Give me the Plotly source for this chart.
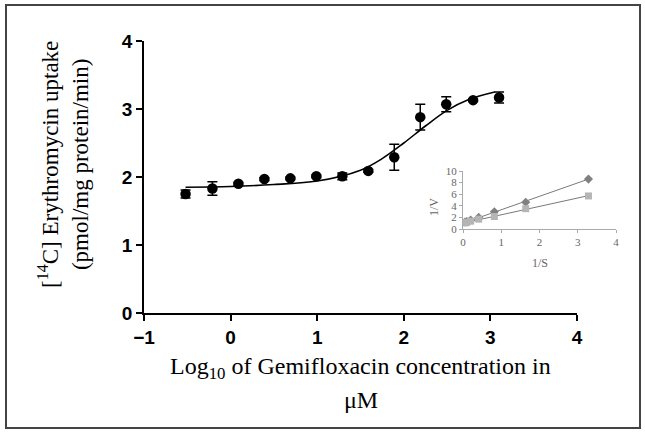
import plotly.graph_objects as go

# Main data: log10 concentration vs uptake
log_conc = [-0.52, -0.21, 0.09, 0.39, 0.69, 0.99, 1.29, 1.59, 1.89, 2.19, 2.49, 2.80, 3.10]
uptake = [1.75, 1.83, 1.90, 1.97, 1.98, 2.01, 2.01, 2.09, 2.29, 2.88, 3.07, 3.13, 3.17]
uptake_err = [0.06, 0.10, 0.02, 0.02, 0.02, 0.02, 0.05, 0.02, 0.19, 0.19, 0.11, 0.02, 0.08]

# Fitted curve
curve_x = [-0.52, 0.0, 0.5, 1.0, 1.5, 1.75, 2.0, 2.25, 2.5, 2.75, 3.05]
curve_y = [1.85, 1.86, 1.89, 1.94, 2.10, 2.27, 2.50, 2.75, 2.98, 3.14, 3.25]

x_ticks = [-1, 0, 1, 2, 3, 4]
y_ticks = [0, 1, 2, 3, 4]

# Inset: Lineweaver-Burk
inv_s = [0.05, 0.10, 0.20, 0.41, 0.82, 1.64, 3.28]
inv_v_a = [1.2, 1.3, 1.55, 2.0, 2.97, 4.6, 8.6]
inv_v_b = [1.05, 1.15, 1.35, 1.7, 2.15, 3.5, 5.7]
line_x = [0.0, 3.28]
line_a = [1.0, 8.6]
line_b = [1.0, 5.75]
inset_xticks = [0, 1, 2, 3, 4]
inset_yticks = [0, 2, 4, 6, 8, 10]

W, H = 645, 433
def px(x): return x / W
def py(y): return 1 - y / H

fig = go.Figure()

fig.add_trace(go.Scatter(x=curve_x, y=curve_y, mode="lines", line=dict(color="black", width=1.6, shape="spline"),
                         xaxis="x", yaxis="y", showlegend=False, hoverinfo="skip"))
fig.add_trace(go.Scatter(x=log_conc, y=uptake, mode="markers",
                         marker=dict(color="black", size=10.5, symbol="circle"),
                         error_y=dict(type="data", array=uptake_err, color="black", thickness=1.5, width=5),
                         xaxis="x", yaxis="y", showlegend=False))

fig.add_trace(go.Scatter(x=line_x, y=line_a, mode="lines", line=dict(color="#7a7a7a", width=1),
                         xaxis="x2", yaxis="y2", showlegend=False))
fig.add_trace(go.Scatter(x=line_x, y=line_b, mode="lines", line=dict(color="#7a7a7a", width=1),
                         xaxis="x2", yaxis="y2", showlegend=False))
fig.add_trace(go.Scatter(x=inv_s, y=inv_v_a, mode="markers",
                         marker=dict(color="#808080", size=7, symbol="diamond"),
                         xaxis="x2", yaxis="y2", showlegend=False))
fig.add_trace(go.Scatter(x=inv_s, y=inv_v_b, mode="markers",
                         marker=dict(color="#b5b5b5", size=7, symbol="square"),
                         xaxis="x2", yaxis="y2", showlegend=False))

tickfont_main = dict(family="Liberation Sans", size=19, color="black", weight="bold")
inset_font = dict(family="Liberation Serif", size=11, color="#666666")
inset_title_font = dict(family="Liberation Serif", size=12, color="#666666")
xtitle_font = dict(family="Liberation Serif", size=24, color="black")
ytitle_font = dict(family="Liberation Serif", size=23, color="black")

fig.update_layout(
    width=W, height=H, autosize=False,
    margin=dict(l=0, r=0, t=0, b=0, pad=0, autoexpand=False),
    paper_bgcolor="white", plot_bgcolor="white",
    xaxis=dict(domain=[px(144), px(577)], range=[-1, 4], tickvals=x_ticks, ticks="outside", ticklen=6,
               tickwidth=1.5, tickcolor="black", showline=True, linecolor="black", linewidth=1.5,
               showgrid=False, zeroline=False, tickfont=tickfont_main, anchor="y", automargin=False),
    yaxis=dict(domain=[py(313), py(41)], range=[0, 4], tickvals=y_ticks, ticks="outside", ticklen=6,
               tickwidth=1.5, tickcolor="black", showline=True, linecolor="black", linewidth=1.5,
               showgrid=False, zeroline=False, tickfont=tickfont_main, anchor="x", automargin=False),
    xaxis2=dict(domain=[px(463), px(616)], range=[0, 4], tickvals=inset_xticks, ticks="outside", ticklen=3,
                tickcolor="#aaaaaa", showline=True, linecolor="#aaaaaa", linewidth=1, showgrid=False,
                zeroline=False, tickfont=inset_font, anchor="y2", automargin=False),
    yaxis2=dict(domain=[py(229), py(171)], range=[0, 10], tickvals=inset_yticks, ticks="outside", ticklen=3,
                tickcolor="#aaaaaa", showline=True, linecolor="#aaaaaa", linewidth=1, showgrid=False,
                zeroline=False, tickfont=inset_font, anchor="x2", automargin=False),
    annotations=[
        dict(text="[<sup>14</sup>C] Erythromycin uptake<br>(pmol/mg protein/min)", x=px(63), y=py(165),
             xref="paper", yref="paper", showarrow=False, textangle=-90,
             xanchor="center", yanchor="middle", font=ytitle_font),
        dict(text="Log<sub>10</sub> of Gemifloxacin concentration in", x=px(361), y=py(368),
             xref="paper", yref="paper", showarrow=False, xanchor="center", yanchor="middle", font=xtitle_font),
        dict(text="μM", x=px(361), y=py(400), xref="paper", yref="paper", showarrow=False,
             xanchor="center", yanchor="middle", font=xtitle_font),
        dict(text="1/V", x=px(434), y=py(207), xref="paper", yref="paper", showarrow=False, textangle=-90,
             xanchor="center", yanchor="middle", font=inset_title_font),
        dict(text="1/S", x=px(540), y=py(263), xref="paper", yref="paper", showarrow=False,
             xanchor="center", yanchor="middle", font=inset_title_font),
    ],
    shapes=[dict(type="rect", xref="paper", yref="paper", x0=px(6), x1=px(640), y0=py(428), y1=py(5),
                 line=dict(color="#444444", width=2))],
)

fig.write_html("out.html", config={"responsive": False, "displayModeBar": False},
               post_script="document.body.style.margin='0px';document.body.style.overflow='hidden';")
